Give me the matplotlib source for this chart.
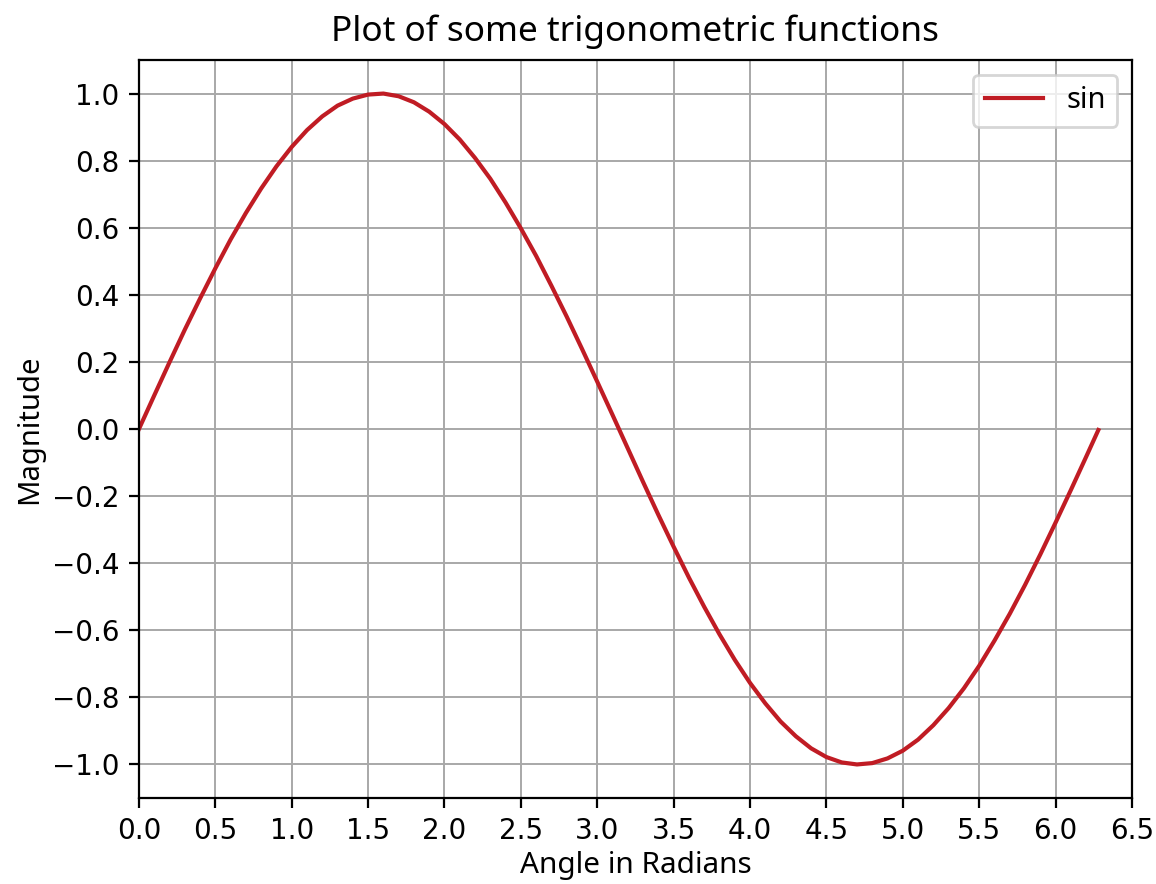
import matplotlib
matplotlib.use('Agg')
import matplotlib.pyplot as plt

plt.rcParams['font.family'] = ['DejaVu Sans']

# --- data ---
angle = [0.0, 0.1, 0.2, 0.3, 0.4, 0.5, 0.6, 0.7, 0.8, 0.9,
         1.0, 1.1, 1.2, 1.3, 1.4, 1.5, 1.6, 1.7, 1.8, 1.9,
         2.0, 2.1, 2.2, 2.3, 2.4, 2.5, 2.6, 2.7, 2.8, 2.9,
         3.0, 3.1, 3.2, 3.3, 3.4, 3.5, 3.6, 3.7, 3.8, 3.9,
         4.0, 4.1, 4.2, 4.3, 4.4, 4.5, 4.6, 4.7, 4.8, 4.9,
         5.0, 5.1, 5.2, 5.3, 5.4, 5.5, 5.6, 5.7, 5.8, 5.9,
         6.0, 6.1, 6.2, 6.28]
sin_vals = [0.000, 0.100, 0.199, 0.296, 0.389, 0.479, 0.565, 0.644, 0.717, 0.783,
            0.841, 0.891, 0.932, 0.964, 0.985, 0.997, 1.000, 0.992, 0.974, 0.946,
            0.909, 0.863, 0.808, 0.746, 0.675, 0.598, 0.516, 0.427, 0.335, 0.239,
            0.141, 0.042, -0.058, -0.158, -0.256, -0.351, -0.443, -0.530, -0.612, -0.688,
            -0.757, -0.818, -0.872, -0.916, -0.952, -0.978, -0.994, -1.000, -0.996, -0.982,
            -0.959, -0.926, -0.883, -0.832, -0.773, -0.706, -0.631, -0.551, -0.465, -0.374,
            -0.279, -0.182, -0.083, -0.003]

x_ticks = [0.0, 0.5, 1.0, 1.5, 2.0, 2.5, 3.0, 3.5, 4.0, 4.5, 5.0, 5.5, 6.0, 6.5]
y_ticks = [-1.0, -0.8, -0.6, -0.4, -0.2, 0.0, 0.2, 0.4, 0.6, 0.8, 1.0]

LINE_COLOR = "#c01c24"
LABEL_FONT = ["Noto Sans", "DejaVu Sans"]

DPI = 200
fig = plt.figure(figsize=(1156 / DPI, 884 / DPI), dpi=DPI)
ax = fig.add_axes([0.1202, 0.0973, 0.9792 - 0.1202, 0.9321 - 0.0973])

ax.plot(angle, sin_vals, color=LINE_COLOR, linewidth=1.5, label="sin")

ax.set_xlim(0, 6.5)
ax.set_ylim(-1.1, 1.1)
ax.set_xticks(x_ticks)
ax.set_yticks(y_ticks)
ax.tick_params(labelsize=10)
ax.grid(True, color="#a8a8a8", linewidth=0.7)

ax.set_title("Plot of some trigonometric functions", fontsize=12.7, family=LABEL_FONT, pad=7)
ax.set_xlabel("Angle in Radians", fontsize=10.7, family=LABEL_FONT, labelpad=2)
ax.set_ylabel("Magnitude", fontsize=10.5, family=LABEL_FONT, labelpad=3)
ax.legend(loc="upper right", prop={"family": LABEL_FONT, "size": 10.5})

fig.savefig("out.png", dpi=DPI, facecolor="white")
